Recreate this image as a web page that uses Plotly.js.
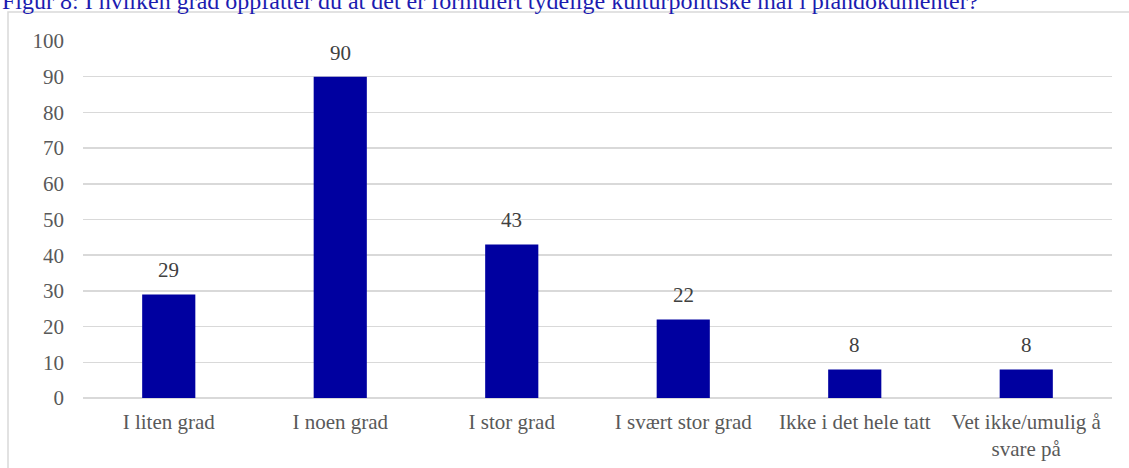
<!DOCTYPE html>
<html>
<head>
<meta charset="utf-8">
<script src="https://cdn.plot.ly/plotly-3.0.1.min.js"></script>
<style>
html,body{margin:0;padding:0;background:#fff;}
#chart{width:1129px;height:468px;}
</style>
</head>
<body>
<div id="chart"></div>
<script>
var categories = ["I liten grad", "I noen grad", "I stor grad", "I svært stor grad", "Ikke i det hele tatt", "Vet ikke/umulig å<br>svare på"];
var values = [29, 90, 43, 22, 8, 8];
var yTicks = [0, 10, 20, 30, 40, 50, 60, 70, 80, 90, 100];
var titleText = "Figur 8: I hvilken grad oppfatter du at det er formulert tydelige kulturpolitiske mål i plandokumenter?";

var W = 1129, H = 468;
var L = 83, R = 17, T = 41, B = 70;
var pw = W - L - R, ph = H - T - B;
function px(x){ return (x - L) / pw; }
function py(y){ return (H - B - y) / ph; }

var font = "'Liberation Serif', 'Times New Roman', serif";

var trace = {
  type: "bar",
  x: categories,
  y: values,
  marker: {color: "#0000A0", line: {width: 0}},
  hoverinfo: "none"
};

var annotations = categories.map(function(c, i){
  return {
    x: c, y: values[i], xref: "x", yref: "y",
    text: String(values[i]), showarrow: false,
    yanchor: "bottom", yshift: 10,
    font: {family: font, size: 21, color: "#404040"}
  };
});
annotations.push({
  xref: "paper", yref: "paper",
  x: px(0), y: py(1), xanchor: "left", yanchor: "middle",
  text: titleText, showarrow: false,
  font: {family: font, size: 24, color: "#1c1cb0"}
});

var layout = {
  width: W, height: H,
  margin: {l: L, r: R, t: T, b: B, pad: 0},
  paper_bgcolor: "#fff", plot_bgcolor: "#fff",
  showlegend: false,
  bargap: 0.69,
  xaxis: {
    type: "category",
    showgrid: false, zeroline: false, showline: false,
    ticks: "", ticklabelstandoff: 9,
    tickfont: {family: font, size: 21, color: "#595959"},
    fixedrange: true
  },
  yaxis: {
    range: [0, 100],
    tickvals: yTicks,
    showgrid: true, gridcolor: "#d9d9d9", gridwidth: 1.5,
    zeroline: true, zerolinecolor: "#d9d9d9", zerolinewidth: 1.5,
    showline: false, ticks: "", ticklabelstandoff: 18,
    tickfont: {family: font, size: 21, color: "#595959"},
    fixedrange: true
  },
  annotations: annotations,
  shapes: [{
    type: "rect", xref: "paper", yref: "paper",
    x0: px(8), x1: px(W + 20), y0: py(H + 20), y1: py(12),
    line: {color: "#d9d9d9", width: 1.5}, fillcolor: "rgba(0,0,0,0)",
    layer: "below"
  }]
};

Plotly.newPlot("chart", [trace], layout, {staticPlot: true, displayModeBar: false});
</script>
</body>
</html>
